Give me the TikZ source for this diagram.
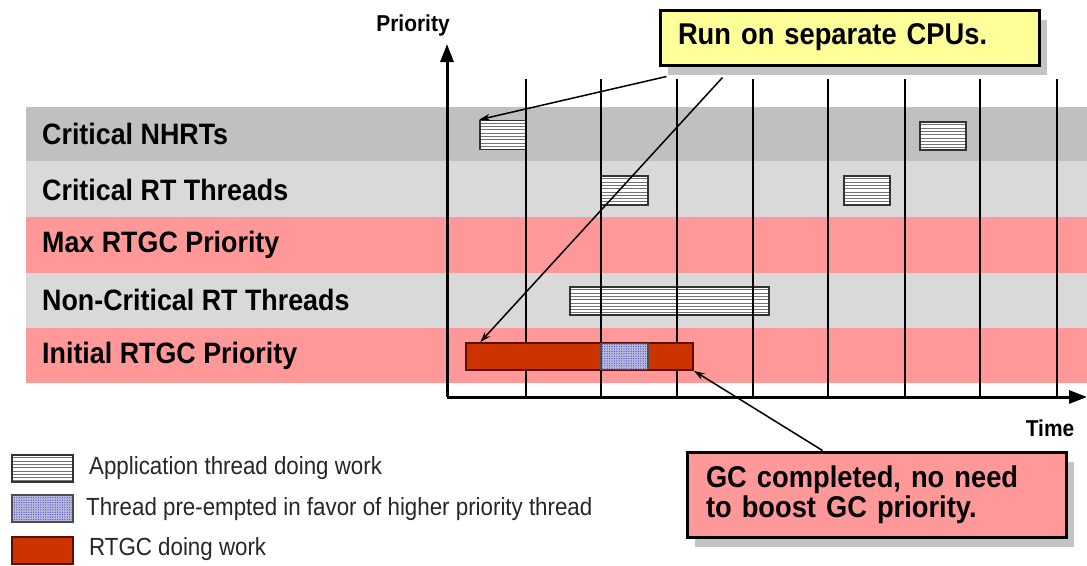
\documentclass[tikz,border=0pt]{standalone}
\usepackage{fontspec}
\setmainfont{Liberation Sans}
\newfontfamily\tallfont[FakeStretch=0.91]{Liberation Sans}
\newfontfamily\legfont[FakeStretch=0.9]{Liberation Sans}
\usetikzlibrary{arrows.meta,patterns.meta,calc,shadows}
\definecolor{bandDark}{RGB}{192,192,192}
\definecolor{bandLight}{RGB}{217,217,217}
\definecolor{bandPink}{RGB}{255,153,153}
\definecolor{gcRed}{RGB}{204,51,0}
\definecolor{gcEdge}{RGB}{90,15,0}
\definecolor{callYellow}{RGB}{255,255,153}
\definecolor{shadowGray}{RGB}{195,195,195}
\definecolor{preemptFill}{RGB}{185,185,225}
\definecolor{preemptDot}{RGB}{70,70,170}
\begin{document}
\begin{tikzpicture}[x=1pt,y=-1pt,
  lbl/.style={anchor=west,inner sep=0pt,font=\tallfont\fontsize{29.5}{30}\selectfont\bfseries},
  axlbl/.style={inner sep=0pt,font=\tallfont\fontsize{23}{24}\selectfont\bfseries},
  legtxt/.style={anchor=west,inner sep=0pt,text=black!85,font=\legfont\fontsize{24.8}{25}\selectfont},
  gridln/.style={line width=1.5pt,black},
  axisln/.style={line width=3pt,black,-{Triangle[length=18pt,width=13pt]}},
  appbox/.style={draw=black!80,line width=1.6pt,inner sep=0pt,fill=white,
    path picture={
      \foreach \i in {1,...,10}
        \draw[black!55,line width=1pt]
          ($(path picture bounding box.north west)+(0,\i*3.3-0.5)$) --
          ($(path picture bounding box.north east)+(0,\i*3.3-0.5)$);}},
  gcbox/.style={draw=gcEdge,line width=1.6pt,fill=gcRed,inner sep=0pt},
  prebox/.style={draw=black!70,line width=1.2pt,inner sep=0pt,
    preaction={fill=preemptFill},
    pattern={Dots[radius=0.6pt,distance=2.4pt]},pattern color=preemptDot},
  callout/.style={draw=black,line width=3pt,inner ysep=0pt,align=left,
    font=\tallfont\fontsize{30}{30}\selectfont\bfseries,
    general shadow={fill=shadowGray,shadow xshift=8pt,shadow yshift=-10pt}},
  callarrow/.style={line width=1.5pt,black,-{Stealth[length=11pt,width=7pt]}}]
\useasboundingbox (0,0) rectangle (1087,565);
% bands
\fill[bandDark] (26,107) rectangle (1087,161);
\fill[bandLight] (26,161) rectangle (1087,217);
\fill[bandPink] (26,217) rectangle (1087,273);
\fill[bandLight] (26,273) rectangle (1087,328);
\fill[bandPink] (26,328) rectangle (1087,383);
\node[lbl] (l1) at (42,134) {Critical NHRTs};
\node[lbl] (l2) at (42,190) {Critical RT Threads};
\node[lbl] (l3) at (42,245) {Max RTGC Priority};
\node[lbl] (l4) at (42,300) {Non-Critical RT Threads};
\node[lbl] (l5) at (42,356) {Initial RTGC Priority};
% application boxes
\node[appbox,minimum width=46pt,minimum height=29pt] (n1) at (503,135) {};
\node[appbox,minimum width=46pt,minimum height=28pt] (n2) at (943,136) {};
\node[appbox,minimum width=47pt,minimum height=29pt] (c1) at (624.5,190.5) {};
\node[appbox,minimum width=46pt,minimum height=29pt] (c2) at (867,190.5) {};
\node[appbox,minimum width=199pt,minimum height=28pt] (nc) at (669.5,301) {};
% grid
\foreach \x in {526,601,677,753,828,905,980,1057}
  \draw[gridln] (\x,79) -- (\x,397);
% GC bar
\node[gcbox,minimum width=227pt,minimum height=27pt] (gcbar) at (579.5,356.5) {};
\node[prebox,minimum width=47pt,minimum height=26pt] (pre) at (624.5,356.5) {};
% axes
\coordinate (O) at (447,397);
\coordinate (ytop) at (447,44);
\coordinate (xend) at (1087,397);
\draw[axisln] (O) -- (ytop);
\draw[axisln] (O) -- (xend);
\node[axlbl] (prio) at (413,26) {Priority};
\node[axlbl] (time) at (1050,428) {Time};
% callouts
\node[callout,fill=callYellow,minimum height=55pt,text width=343pt,inner xsep=18pt] (run) at (849.5,37.5) {Run on separate CPUs.};
\node[callout,fill=bandPink,minimum height=85pt,text width=341pt,inner xsep=19pt] (gcdone) at (876.5,494.5) {GC completed, no need\\to boost GC priority.};
\coordinate (a1) at ($(run.south west)+(8,10)$);
\coordinate (a2) at ($(run.south west)+(64,11)$);
\coordinate (a3) at ($(gcdone.north west)+(137,0)$);
\draw[callarrow] (a1) -- (n1.north west);
\draw[callarrow] (a2) -- ($(gcbar.north west)+(15,0)$);
\draw[callarrow] (a3) -- (gcbar.south east);
% legend
\node[appbox,minimum width=61pt,minimum height=27pt] (k1) at (42.5,468.5) {};
\node[prebox,minimum width=61pt,minimum height=27pt] (k2) at (42.5,508.5) {};
\node[gcbox,minimum width=61pt,minimum height=27pt] (k3) at (42.5,550.5) {};
\node[legtxt] (t1) at (89,468) {Application thread doing work};
\node[legtxt] (t2) at (86,509) {Thread pre-empted in favor of higher priority thread};
\node[legtxt] (t3) at (89,549) {RTGC doing work};
\end{tikzpicture}
\end{document}
